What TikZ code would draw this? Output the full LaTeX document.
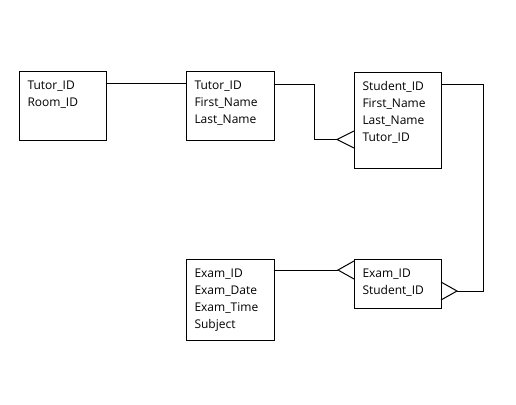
\documentclass[tikz,border=0pt]{standalone}
\usepackage{fontspec}
\setmainfont{Open Sans}
\usetikzlibrary{calc}

\begin{document}
\begin{tikzpicture}[x=1pt,y=-1pt,line width=1pt,
	entity/.style={draw,inner sep=0pt,outer sep=0pt,anchor=north west},
	fields/.style={inner sep=0pt,anchor=north west,align=left,font=\fontsize{12}{17}\selectfont}]
	\useasboundingbox (0,0) rectangle (516,404);
	% tables
	\node[entity,minimum width=87,minimum height=69] (tutorroom) at (19,71) {};
	\node[entity,minimum width=88,minimum height=69] (tutor) at (186,71) {};
	\node[entity,minimum width=87,minimum height=96] (student) at (354,72) {};
	\node[entity,minimum width=88,minimum height=81] (exam) at (186,259) {};
	\node[entity,minimum width=87,minimum height=49] (entry) at (354,259) {};
	\node[fields] (tutorroomf) at ($(tutorroom.north west)+(8,9)$) {Tutor\_ID\\Room\_ID};
	\node[fields] (tutorf) at ($(tutor.north west)+(8,9)$) {Tutor\_ID\\First\_Name\\Last\_Name};
	\node[fields] (studentf) at ($(student.north west)+(8,9)$) {Student\_ID\\First\_Name\\Last\_Name\\Tutor\_ID};
	\node[fields] (examf) at ($(exam.north west)+(8,9)$) {Exam\_ID\\Exam\_Date\\Exam\_Time\\Subject};
	\node[fields] (entryf) at ($(entry.north west)+(8,9)$) {Exam\_ID\\Student\_ID};
	% relationships
	\draw ($(tutorroom.north east)+(0,12)$) -- ($(tutor.north west)+(0,12)$);
	\coordinate (ts) at ($(student.north west)+(-17,67.5)$);
	\draw ($(tutor.north east)+(0,13)$) -- ++(40,0) |- (ts);
	\draw ($(student.north west)+(0,59)$) -- (ts) -- ($(student.north west)+(0,76)$);
	\coordinate (se) at ($(entry.north east)+(16,32)$);
	\draw ($(student.north east)+(0,12)$) -- ++(42,0) |- (se);
	\draw ($(entry.north east)+(0,23)$) -- (se) -- ($(entry.north east)+(0,41)$);
	\coordinate (ee) at ($(entry.north west)+(-16,11)$);
	\draw ($(exam.north east)+(0,11)$) -- (ee);
	\draw ($(entry.north west)+(0,2)$) -- (ee) -- ($(entry.north west)+(0,20)$);
\end{tikzpicture}
\end{document}
